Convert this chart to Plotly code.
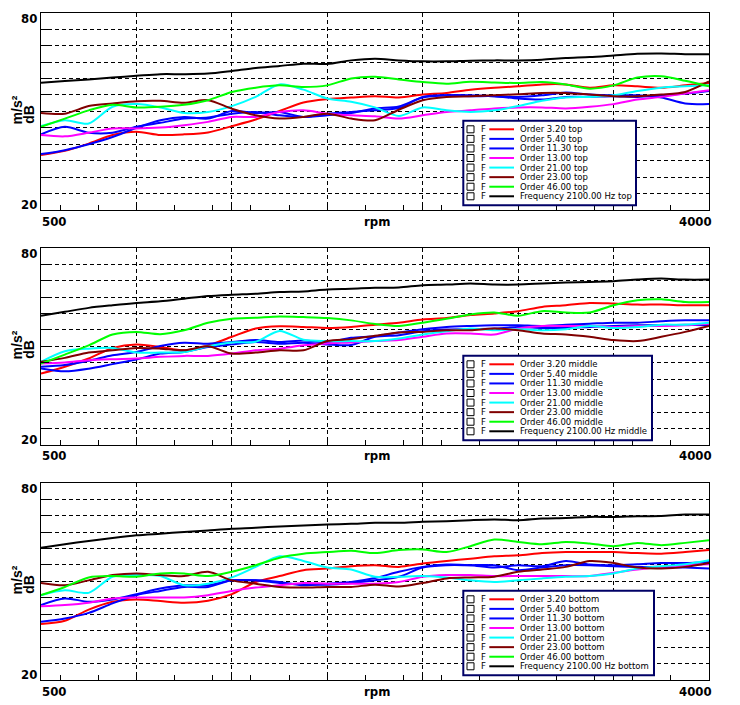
import plotly.graph_objects as go

# ---------------- data ----------------
RPM = [500, 625, 750, 875, 1000, 1125, 1250, 1375, 1500, 1625, 1750, 1875, 2000, 2125,
       2250, 2375, 2500, 2625, 2750, 2875, 3000, 3125, 3250, 3375, 3500, 3625, 3750, 3875, 4000]

SERIES_NAMES = ["Order 3.20", "Order 5.40", "Order 11.30", "Order 13.00",
                "Order 21.00", "Order 23.00", "Order 46.00", "Frequency 2100.00 Hz"]
SERIES_COLORS = ["#ff0000", "#0000ff", "#0000ff", "#ff00ff",
                 "#00ffff", "#800000", "#00ff00", "#000000"]
POSITIONS = ["top", "middle", "bottom"]

# top
top_o3_20 = [36.7, 38.0, 40.2, 42.8, 43.8, 42.8, 43.0, 43.6, 45.5, 47.5, 50.1, 52.7, 53.7, 54.2, 54.6,
             54.2, 55.1, 55.6, 56.6, 57.2, 57.6, 58.2, 58.2, 57.2, 57.9, 57.6, 57.2, 57.9, 58.6]
top_o5_40 = [43.0, 45.3, 43.5, 43.5, 45.3, 46.5, 47.8, 48.1, 49.3, 49.8, 48.8, 48.3, 48.8, 49.5, 50.9,
             51.5, 54.2, 54.9, 54.9, 54.6, 54.4, 54.9, 55.7, 55.1, 54.9, 54.9, 54.2, 52.4, 52.2]
top_o11_30 = [37.0, 38.2, 40.0, 42.2, 45.0, 47.3, 48.3, 47.8, 50.1, 49.5, 49.8, 48.3, 49.3, 49.8, 50.3,
              51.0, 54.4, 54.9, 54.6, 54.6, 53.9, 53.6, 54.4, 54.4, 54.6, 54.4, 54.9, 55.4, 56.2]
top_o13 = [42.8, 42.4, 43.5, 44.8, 44.8, 45.1, 45.8, 46.8, 48.3, 48.3, 49.8, 50.3, 49.3, 48.8, 48.5,
           47.8, 48.8, 49.8, 50.3, 50.9, 51.2, 51.2, 50.9, 51.4, 52.2, 53.6, 54.4, 55.4, 56.4]
top_o21 = [45.5, 47.3, 46.3, 51.4, 52.2, 51.2, 49.5, 49.8, 51.6, 54.4, 58.2, 56.6, 53.9, 52.9, 51.2,
           48.6, 51.2, 50.3, 49.8, 50.3, 51.6, 53.2, 54.2, 54.4, 54.9, 56.2, 57.2, 57.6, 57.9]
top_o23 = [49.5, 49.3, 51.6, 52.4, 53.1, 53.2, 52.6, 53.4, 50.8, 48.8, 47.8, 48.3, 49.3, 47.8, 47.3,
           50.5, 53.4, 54.4, 54.6, 54.9, 55.2, 55.6, 55.6, 55.1, 54.6, 54.6, 55.1, 55.9, 59.1]
top_o46 = [45.3, 47.8, 50.3, 52.0, 51.2, 51.4, 52.0, 53.4, 55.9, 57.2, 57.9, 57.4, 57.9, 60.0, 60.5,
           59.7, 58.9, 58.4, 59.0, 58.8, 58.6, 58.9, 58.2, 56.9, 57.9, 60.3, 60.7, 59.3, 57.6]
top_f2100 = [58.7, 59.2, 59.7, 60.3, 60.8, 61.3, 61.3, 61.5, 62.3, 63.2, 63.8, 64.5, 64.4, 65.5, 66.0,
             65.5, 65.2, 65.2, 65.4, 65.5, 65.5, 65.7, 66.2, 66.5, 67.0, 67.5, 67.6, 67.4, 67.4]

# middle
mid_o3_20 = [41.7, 43.8, 46.3, 49.5, 50.6, 49.8, 48.8, 50.3, 52.9, 55.4, 56.1, 55.9, 55.6, 55.9, 56.6,
             57.2, 58.2, 58.6, 59.5, 60.0, 60.7, 62.0, 62.5, 63.2, 63.0, 62.7, 62.7, 62.5, 62.5]
mid_o5_40 = [43.8, 44.3, 45.6, 47.3, 48.3, 50.1, 51.1, 50.8, 51.3, 51.9, 51.3, 51.8, 51.3, 52.6, 53.1,
             54.2, 55.2, 55.9, 56.2, 56.4, 56.4, 56.2, 56.6, 56.9, 57.2, 57.2, 57.6, 57.9, 57.9]
mid_o11_30 = [43.3, 42.4, 43.2, 44.6, 46.0, 47.8, 48.3, 49.8, 50.6, 51.3, 50.8, 51.1, 50.6, 50.4, 52.9,
              53.4, 54.6, 55.1, 55.2, 55.4, 55.9, 55.6, 55.6, 55.9, 56.2, 56.4, 56.4, 56.6, 56.4]
mid_o13 = [44.8, 45.1, 45.8, 46.1, 46.3, 46.8, 47.1, 47.1, 47.8, 48.8, 49.3, 50.3, 50.9, 51.2, 51.6,
           51.9, 52.9, 53.9, 53.9, 53.6, 55.4, 56.2, 56.2, 56.2, 55.9, 56.2, 56.2, 56.4, 56.9]
mid_o21 = [45.3, 48.5, 49.3, 49.5, 48.1, 48.1, 48.3, 50.0, 51.2, 51.4, 54.7, 52.0, 51.6, 51.6, 51.6,
           52.4, 53.6, 54.6, 55.4, 54.9, 55.2, 54.9, 55.2, 56.2, 55.6, 55.9, 56.6, 56.6, 57.2]
mid_o23 = [45.3, 46.5, 48.1, 48.8, 49.5, 49.3, 48.8, 50.0, 47.8, 48.1, 48.8, 48.8, 51.6, 52.2, 53.2,
           54.2, 54.4, 54.9, 54.9, 55.4, 54.9, 53.9, 53.6, 52.9, 51.9, 51.6, 52.9, 54.4, 56.2]
mid_o46 = [44.8, 47.5, 50.3, 53.6, 54.4, 53.7, 54.9, 57.2, 58.4, 58.7, 59.1, 58.9, 58.6, 57.9, 56.8,
           56.2, 57.2, 58.4, 59.7, 60.3, 59.3, 60.7, 60.3, 60.3, 62.5, 64.0, 64.3, 63.5, 63.5]
mid_f2100 = [59.3, 60.5, 61.7, 62.5, 63.2, 63.7, 64.5, 65.3, 65.7, 66.0, 66.5, 66.7, 67.3, 67.5, 67.8,
             67.9, 68.6, 68.8, 69.1, 68.8, 68.8, 69.1, 69.4, 69.6, 69.8, 70.3, 70.6, 70.3, 70.3]

# bottom
bot_o3_20 = [37.0, 38.0, 41.4, 43.8, 44.5, 44.0, 43.5, 44.1, 46.1, 49.8, 51.6, 53.4, 53.9, 54.6, 54.9,
             54.4, 55.4, 56.2, 56.9, 57.6, 57.9, 58.6, 58.9, 58.9, 58.9, 58.6, 58.4, 58.9, 59.5]
bot_o5_40 = [42.8, 44.8, 43.8, 44.5, 46.1, 47.8, 48.8, 48.8, 50.3, 50.3, 49.8, 48.8, 49.3, 49.8, 51.0,
             52.9, 54.4, 55.1, 54.9, 54.2, 54.9, 54.6, 56.2, 55.1, 54.9, 55.2, 55.6, 55.6, 55.9]
bot_o11_30 = [37.7, 38.7, 40.4, 43.3, 45.8, 47.1, 48.3, 48.3, 50.3, 50.3, 49.5, 49.1, 49.0, 49.5, 50.3,
              51.4, 54.2, 54.9, 54.9, 54.9, 53.4, 54.2, 54.9, 54.9, 54.6, 54.4, 54.4, 54.2, 53.9]
bot_o13 = [42.4, 42.8, 43.5, 44.8, 45.1, 45.1, 45.1, 45.8, 47.1, 48.1, 48.8, 49.5, 49.3, 49.3, 49.3,
           49.8, 51.4, 51.9, 51.9, 51.6, 51.6, 51.6, 51.6, 51.6, 52.6, 53.6, 54.4, 54.9, 55.2]
bot_o21 = [45.8, 47.3, 46.5, 51.4, 51.9, 51.6, 48.8, 49.3, 51.2, 54.4, 57.6, 56.2, 54.2, 53.6, 51.4,
           51.4, 51.6, 51.2, 50.3, 49.8, 50.3, 50.9, 51.4, 51.6, 52.4, 53.9, 54.6, 55.2, 56.4]
bot_o23 = [49.5, 48.8, 50.3, 51.9, 52.4, 51.9, 51.6, 52.9, 50.3, 49.3, 48.3, 48.1, 48.3, 48.3, 49.0,
           48.4, 49.5, 50.9, 51.2, 51.4, 52.9, 53.6, 54.4, 56.2, 55.6, 54.2, 53.9, 54.4, 55.6]
bot_o46 = [45.8, 48.3, 51.2, 51.6, 51.4, 52.4, 52.4, 51.6, 52.9, 54.9, 57.2, 58.4, 58.9, 59.3, 58.6,
           59.5, 59.7, 58.9, 60.7, 62.7, 62.0, 61.3, 62.0, 61.5, 60.7, 61.7, 61.0, 61.7, 62.5]
bot_f2100 = [60.2, 61.3, 62.3, 63.2, 64.0, 64.5, 65.0, 65.5, 66.0, 66.3, 66.7, 67.0, 67.3, 67.5, 67.8,
             67.8, 68.1, 68.3, 68.6, 68.8, 68.6, 69.1, 69.3, 69.6, 69.6, 69.8, 69.9, 70.3, 70.3]

PANEL_DATA = {
    "top": [top_o3_20, top_o5_40, top_o11_30, top_o13, top_o21, top_o23, top_o46, top_f2100],
    "middle": [mid_o3_20, mid_o5_40, mid_o11_30, mid_o13, mid_o21, mid_o23, mid_o46, mid_f2100],
    "bottom": [bot_o3_20, bot_o5_40, bot_o11_30, bot_o13, bot_o21, bot_o23, bot_o46, bot_f2100],
}

X_RANGE = [500, 4000]
Y_RANGE = [20, 80]
X_GRID = [1000, 1500, 2000, 2500, 3000, 3500]
X_MINOR = [600, 800, 1200, 1400, 1600, 1800, 2200, 2400, 2600, 2800, 3200, 3400, 3600, 3800]
Y_GRID = [25, 30, 35, 40, 45, 50, 55, 60, 65, 70, 75]

# ---------------- layout geometry (window pixels) ----------------
OFF = 8                      # default page margin around the plot div
W, H = 740 - OFF, 705 - OFF  # figure size so that it fits the window
PX0, PX1 = 41, 709
PANEL_TOPS = [12.7, 247.7, 482.7]
PANEL_H = 197.3
LEGEND_RIGHT = [636, 652, 654]

AX_FONT = "DejaVu Sans Condensed, Liberation Sans Narrow, Arial Narrow, sans-serif"
LEG_FONT = "DejaVu Sans, Liberation Sans, sans-serif"
TITLE_FONT = dict(family="Liberation Sans, Arial, sans-serif", size=14, color="black")


def fx(x):
    return (x - OFF) / W


def fy(y):
    return 1 - (y - OFF) / H


fig = go.Figure()
layout = dict(
    width=W, height=H,
    margin=dict(l=0, r=0, t=0, b=0),
    paper_bgcolor="white", plot_bgcolor="white",
    showlegend=False,
)
shapes = []
annotations = []

for i, pos in enumerate(POSITIONS):
    sfx = "" if i == 0 else str(i + 1)
    top = PANEL_TOPS[i]
    bottom = top + PANEL_H
    for name, color, vals in zip(SERIES_NAMES, SERIES_COLORS, PANEL_DATA[pos]):
        fig.add_trace(go.Scatter(
            x=RPM, y=vals, mode="lines", name=f"{name} {pos}",
            line=dict(color=color, width=2, shape="spline", smoothing=0.8),
            xaxis="x" + sfx, yaxis="y" + sfx,
        ))
    layout["xaxis" + sfx] = dict(
        domain=[fx(PX0), fx(PX1)], anchor="y" + sfx, range=X_RANGE,
        tickmode="array", tickvals=X_GRID, ticks="inside", ticklen=5,
        tickcolor="black", showticklabels=False,
        showgrid=True, gridcolor="black", gridwidth=1, griddash="4px,3px",
        showline=True, mirror=True, linecolor="black", linewidth=1, zeroline=False,
        minor=dict(tickmode="array", tickvals=X_MINOR, ticks="inside", ticklen=5,
                   tickcolor="black", showgrid=False),
    )
    layout["yaxis" + sfx] = dict(
        domain=[fy(bottom), fy(top)], anchor="x" + sfx, range=Y_RANGE,
        tickmode="array", tickvals=Y_GRID, ticks="inside", ticklen=8,
        tickcolor="black", showticklabels=False,
        showgrid=True, gridcolor="black", gridwidth=1, griddash="4px,3px",
        showline=True, mirror=True, linecolor="black", linewidth=1, zeroline=False,
    )

    # axis end labels
    big = dict(family=AX_FONT, size=13, color="black")
    annotations += [
        dict(text="<b>%d</b>" % Y_RANGE[1], x=fx(39), xanchor="right", y=fy(top + 5.5), yanchor="middle",
             xref="paper", yref="paper", showarrow=False, font=big),
        dict(text="<b>%d</b>" % Y_RANGE[0], x=fx(39), xanchor="right", y=fy(top + 191.5), yanchor="middle",
             xref="paper", yref="paper", showarrow=False, font=big),
        dict(text="<b>%d</b>" % X_RANGE[0], x=fx(39.5), xanchor="left", y=fy(bottom + 11), yanchor="middle",
             xref="paper", yref="paper", showarrow=False, font=big),
        dict(text="<b>%d</b>" % X_RANGE[1], x=fx(714), xanchor="right", y=fy(bottom + 11), yanchor="middle",
             xref="paper", yref="paper", showarrow=False, font=big),
        dict(text="<b>rpm</b>", x=fx(377), xanchor="center", y=fy(bottom + 11), yanchor="middle",
             xref="paper", yref="paper", showarrow=False, font=big),
        dict(text="<b>m/s²</b>", x=fx(8.2), xanchor="left", y=fy(top + 97.5), yanchor="middle",
             xref="paper", yref="paper", showarrow=False, textangle=-90, borderpad=0,
             font=TITLE_FONT),
        dict(text="<b>dB</b>", x=fx(29.5), xanchor="center", y=fy(top + 101.5), yanchor="middle",
             xref="paper", yref="paper", showarrow=False, textangle=-90,
             font=TITLE_FONT),
    ]

    # legend box (drawn manually to reproduce checkbox + F + sample + label)
    dy = top - PANEL_TOPS[0]
    shapes.append(dict(type="rect", xref="paper", yref="paper",
                       x0=fx(463.3), x1=fx(LEGEND_RIGHT[i]), y0=fy(205.3 + dy), y1=fy(120.7 + dy),
                       line=dict(color="#000066", width=2), fillcolor="white", layer="above"))
    small = dict(family=LEG_FONT, size=8.5, color="black")
    for k, (name, color) in enumerate(zip(SERIES_NAMES, SERIES_COLORS)):
        yc = 129.3 + 9.57 * k + dy
        shapes.append(dict(type="rect", xref="paper", yref="paper",
                           x0=fx(467), x1=fx(474), y0=fy(yc + 3.5), y1=fy(yc - 3.5),
                           line=dict(color="black", width=1), fillcolor="white", layer="above"))
        shapes.append(dict(type="line", xref="paper", yref="paper",
                           x0=fx(489.3), x1=fx(514), y0=fy(yc), y1=fy(yc),
                           line=dict(color=color, width=2), layer="above"))
        annotations.append(dict(text="F", x=fx(478.5), xanchor="left", y=fy(yc), yanchor="middle",
                                xref="paper", yref="paper", showarrow=False, font=small))
        annotations.append(dict(text=f"{name} {pos}", x=fx(518), xanchor="left", y=fy(yc), yanchor="middle",
                                xref="paper", yref="paper", showarrow=False, font=small))

layout["shapes"] = shapes
layout["annotations"] = annotations
fig.update_layout(**layout)
fig.write_html("out.html")
